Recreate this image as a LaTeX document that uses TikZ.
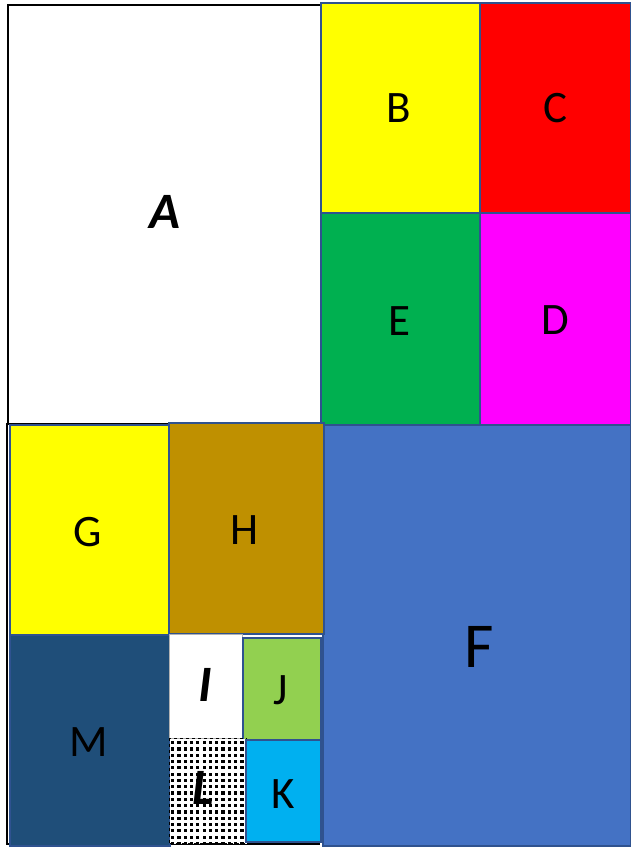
\documentclass[tikz,border=0pt]{standalone}
\usepackage{fontspec}
\setmainfont{Carlito}
\begin{document}
\begin{tikzpicture}[x=1pt,y=-1pt,
  cell/.style={draw=bordc,line width=2pt,inner sep=0pt,anchor=north west},
  lab/.style={font=\fontsize{45}{45}\selectfont,text=black,inner sep=0pt},
  labbi/.style={font=\fontsize{51}{51}\selectfont\bfseries\itshape,text=black,inner sep=0pt}]
\definecolor{bordc}{HTML}{2F528F}
\definecolor{cB}{HTML}{FFFF00}
\definecolor{cC}{HTML}{FF0000}
\definecolor{cE}{HTML}{00B050}
\definecolor{cD}{HTML}{FF00FF}
\definecolor{cF}{HTML}{4472C4}
\definecolor{cH}{HTML}{BF9000}
\definecolor{cM}{HTML}{1F4E79}
\definecolor{cJ}{HTML}{92D050}
\definecolor{cK}{HTML}{00B0F0}
\useasboundingbox (0,0) rectangle (631,847);
\fill[white] (0,0) rectangle (631,847);
% outer black frame
\draw[black,line width=1.5pt] (7,423) -- (7,844) -- (320,844);
\node[draw=black,line width=1.5pt,fill=white,inner sep=0pt,anchor=north west,minimum width=313pt,minimum height=419pt] (A) at (7,4) {};
\node[cell,fill=cB,minimum width=159pt,minimum height=210pt] (B) at (320,2) {};
\node[cell,fill=cC,minimum width=151pt,minimum height=210pt] (C) at (479,2) {};
\node[cell,fill=cE,minimum width=159pt,minimum height=212pt] (E) at (320,212) {};
\node[cell,fill=cD,minimum width=151pt,minimum height=212pt] (D) at (479,212) {};
\node[cell,fill=cF,minimum width=308pt,minimum height=421pt] (F) at (322,424) {};
\node[cell,fill=cB,minimum width=159pt,minimum height=210pt] (G) at (9,424) {};
\node[cell,fill=cH,minimum width=155pt,minimum height=211pt] (H) at (168,422) {};
\node[cell,fill=cM,minimum width=160pt,minimum height=211pt] (M) at (9,634) {};
\node[draw=gray!60,line width=1pt,fill=white,inner sep=0pt,anchor=north west,minimum width=73pt,minimum height=104pt] (I) at (169,634) {};
\node[cell,fill=cJ,minimum width=78pt,minimum height=102pt] (J) at (242,637) {};
% L dotted cell
\node[draw=black,dashed,line width=1pt,fill=white,inner sep=0pt,anchor=north west,minimum width=77pt,minimum height=105pt] (L) at (169,738) {};
\begin{scope}
\clip (170,739) rectangle (246,843);
\foreach \i in {0,...,12}{
  \foreach \j in {0,...,16}{
    \fill[black] ({171+6.3*\i},{741+6.3*\j}) rectangle ++(3.2,3.2);
  }
}
\end{scope}
\node[cell,fill=cK,minimum width=75pt,minimum height=102pt] (K) at (245,739) {};
% labels
\node[labbi] (lA) at (165,212) {A};
\node[lab] (lB) at (399,108) {B};
\node[lab] (lC) at (555,108) {C};
\node[lab] (lE) at (399,321) {E};
\node[lab] (lD) at (555,320) {D};
\node[font=\fontsize{64}{64}\selectfont,inner sep=0pt] (lF) at (479,647) {F};
\node[lab] (lG) at (88,532) {G};
\node[lab] (lH) at (245,530) {H};
\node[lab] (lM) at (89,742) {M};
\node[labbi] (lI) at (205,685) {I};
\node[lab] (lJ) at (281,690) {J};
\node[labbi] (lL) at (203,788) {L};
\node[lab] (lK) at (283,794) {K};
\end{tikzpicture}
\end{document}
